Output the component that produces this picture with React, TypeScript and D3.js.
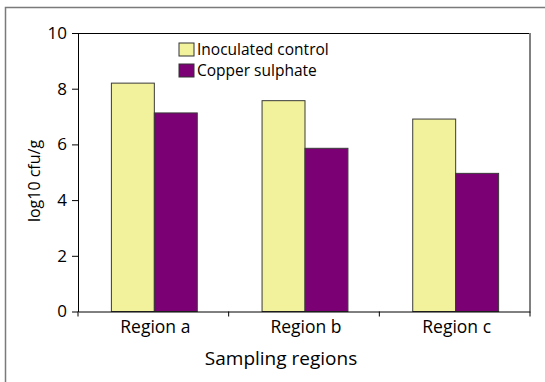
import * as d3 from 'd3';
import { useEffect, useRef } from 'react';

const categories = ['Region a', 'Region b', 'Region c'];
const seriesNames = ['Inoculated control', 'Copper sulphate'];
const inoculatedControl = [8.2, 7.57, 6.91];
const copperSulphate = [7.13, 5.86, 4.96];
const yTicks = [0, 2, 4, 6, 8, 10];
const seriesColors = ['#f2f29c', '#7b0073'];

const W = 545;
const H = 382;
const FONT = '"Open Sans", "DejaVu Sans", sans-serif';

const App = () => {
  const chartRef = useRef<SVGSVGElement | null>(null);

  useEffect(() => {
    const svg = d3.select(chartRef.current);
    svg.selectAll('*').remove();

    const margin = { top: 33, left: 78, right: 15, bottom: 70.5 };
    const plotW = W - margin.left - margin.right;
    const plotH = H - margin.top - margin.bottom;

    // outer frame (cut off at right/bottom like the reference)
    svg
      .append('rect')
      .attr('x', 5.5)
      .attr('y', 7.5)
      .attr('width', W + 10)
      .attr('height', H + 10)
      .style('fill', '#fff')
      .style('stroke', '#7a7a7a')
      .style('stroke-width', 1.5);

    const x = d3.scaleBand().domain(categories).range([0, plotW]);
    const inner = d3
      .scaleBand()
      .domain(['0', '1'])
      .range([0, x.bandwidth() * 0.57]);
    const y = d3.scaleLinear().domain([0, 10]).range([plotH, 0]);

    const g = svg
      .append('g')
      .attr('transform', `translate(${margin.left}, ${margin.top})`);

    // plot border: top black, right grey
    g.append('line')
      .attr('x1', 0)
      .attr('x2', plotW)
      .attr('y1', 0.5)
      .attr('y2', 0.5)
      .style('stroke', '#000');
    g.append('line')
      .attr('x1', plotW)
      .attr('x2', plotW)
      .attr('y1', 0)
      .attr('y2', plotH)
      .style('stroke', '#808080')
      .style('stroke-width', 2);

    const rows = categories.map((c, i) => ({
      category: c,
      values: [inoculatedControl[i], copperSulphate[i]],
    }));

    const groupOffset = (x.bandwidth() - x.bandwidth() * 0.57) / 2 + 1;
    g.selectAll('.bar-group')
      .data(rows)
      .enter()
      .append('g')
      .attr('class', 'bar-group')
      .attr('transform', (d) => `translate(${(x(d.category) ?? 0) + groupOffset}, 0)`)
      .selectAll('rect')
      .data((d) => d.values.map((v, k) => ({ v, k })))
      .enter()
      .append('rect')
      .attr('x', (d) => inner(String(d.k)) ?? 0)
      .attr('y', (d) => y(d.v))
      .attr('width', inner.bandwidth())
      .attr('height', (d) => plotH - y(d.v))
      .style('fill', (d) => seriesColors[d.k])
      .style('stroke', '#3a3a3a')
      .style('stroke-width', 1);

    // y axis
    const yAxis = g
      .append('g')
      .call(d3.axisLeft(y).tickValues(yTicks).tickSize(6).tickPadding(5).tickSizeOuter(0));
    yAxis.select('.domain').style('stroke', '#000');
    yAxis
      .selectAll('text')
      .style('font-family', FONT)
      .style('font-size', '17px')
      .style('fill', '#000');

    // x axis
    const xAxis = g
      .append('g')
      .attr('transform', `translate(0, ${plotH})`)
      .call(d3.axisBottom(x).tickValues([]).tickSizeOuter(0));
    xAxis.select('.domain').style('stroke', '#000');
    // category boundary ticks
    const bounds = categories.map((c) => x(c) ?? 0).concat([plotW]);
    g.selectAll('.xtick')
      .data(bounds)
      .enter()
      .append('line')
      .attr('class', 'xtick')
      .attr('x1', (d) => d)
      .attr('x2', (d) => d)
      .attr('y1', plotH)
      .attr('y2', plotH + 5)
      .style('stroke', '#000');
    g.selectAll('.xlabel')
      .data(categories)
      .enter()
      .append('text')
      .attr('class', 'xlabel')
      .attr('x', (d) => (x(d) ?? 0) + x.bandwidth() / 2 + 2)
      .attr('y', plotH + 21)
      .attr('text-anchor', 'middle')
      .style('font-family', FONT)
      .style('font-size', '17.5px')
      .text((d) => d);

    // axis titles
    svg
      .append('text')
      .attr('x', 281)
      .attr('y', 365)
      .attr('text-anchor', 'middle')
      .style('font-family', FONT)
      .style('font-size', '19px')
      .text('Sampling regions');
    svg
      .append('text')
      .attr('transform', 'translate(40, 181) rotate(-90)')
      .attr('text-anchor', 'middle')
      .style('font-family', FONT)
      .style('font-size', '16px')
      .text('log10 cfu/g');

    // legend
    const legend = svg
      .append('g')
      .attr('transform', 'translate(179, 42)')
      .selectAll('g')
      .data(seriesNames)
      .enter()
      .append('g')
      .attr('transform', (_, i) => `translate(0, ${i * 21})`);
    legend
      .append('rect')
      .attr('x', 0)
      .attr('y', 1)
      .attr('width', 15)
      .attr('height', 13)
      .style('fill', (_, i) => seriesColors[i])
      .style('stroke', '#333');
    legend
      .append('text')
      .attr('x', 18)
      .attr('y', 13)
      .style('font-family', FONT)
      .style('font-size', '15.5px')
      .text((d) => d);
  }, []);

  return (
    <svg
      ref={chartRef}
      width={W}
      height={H}
      style={{ position: 'absolute', left: 0, top: 0, background: '#fff' }}
    />
  );
};

export default App;
